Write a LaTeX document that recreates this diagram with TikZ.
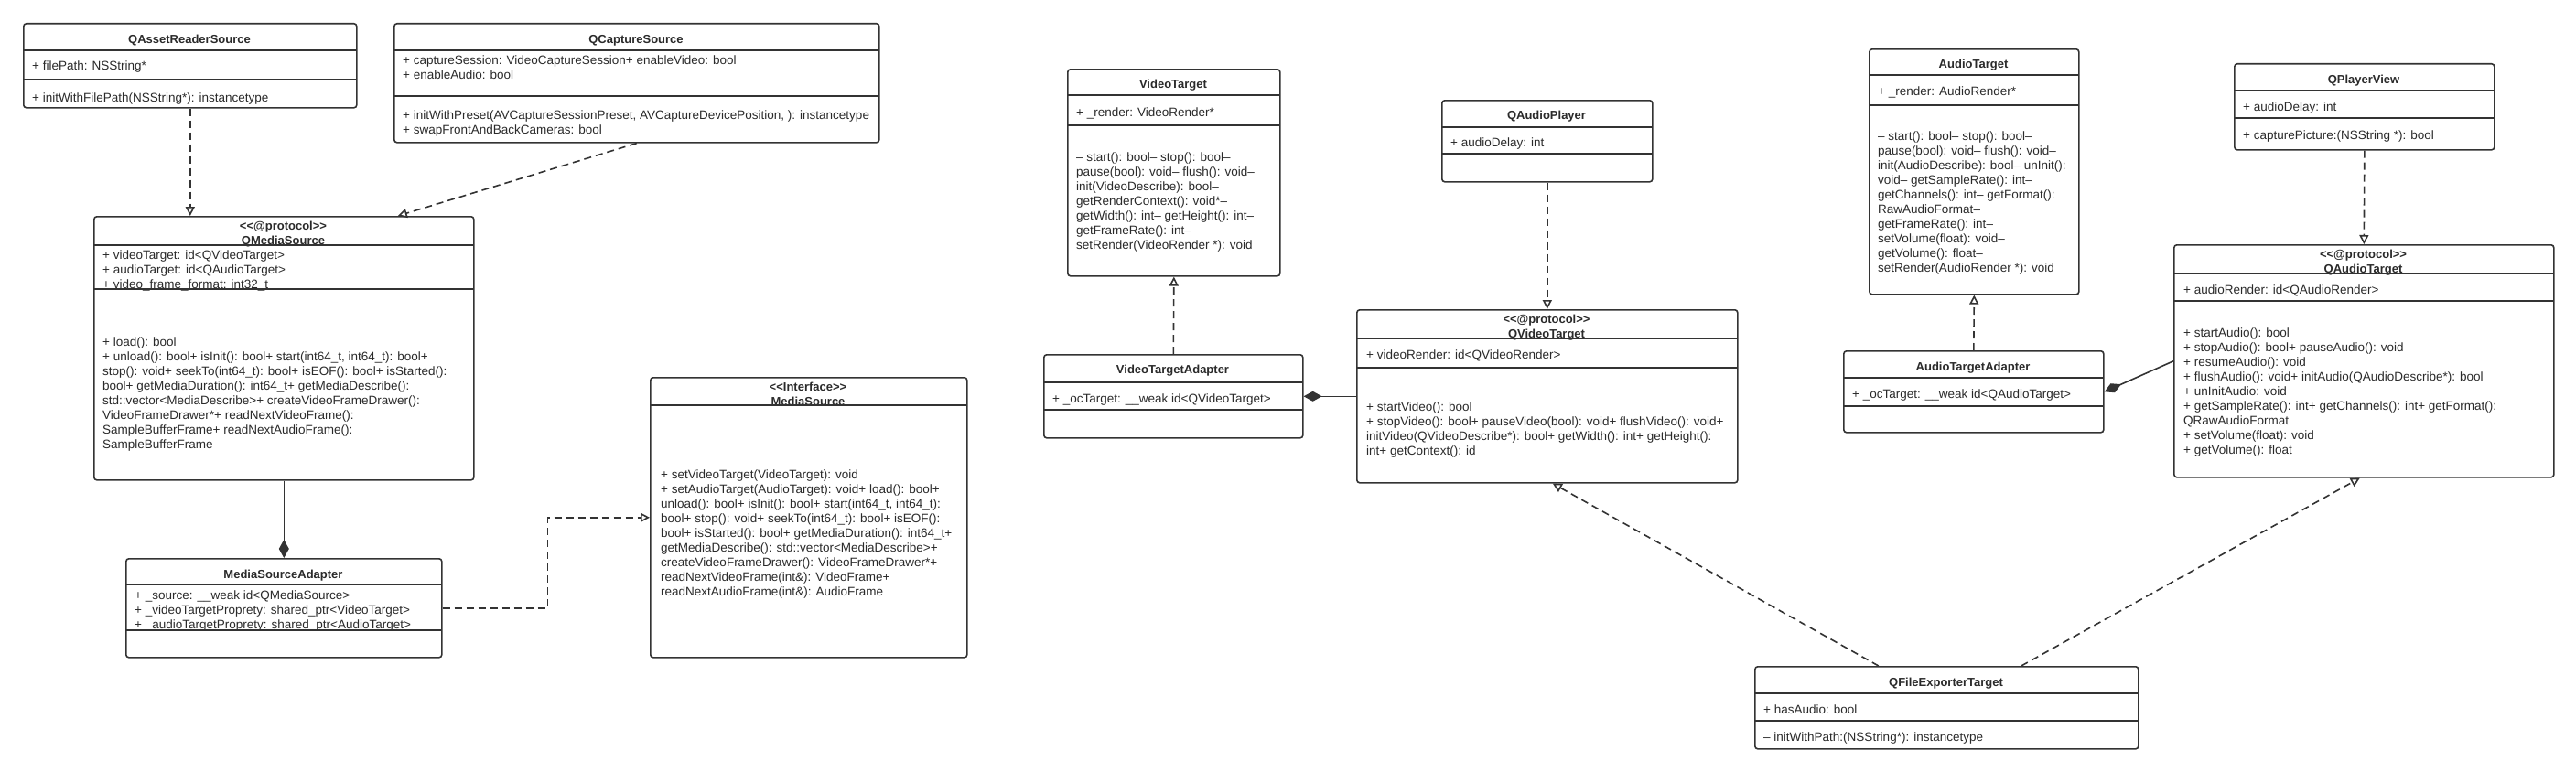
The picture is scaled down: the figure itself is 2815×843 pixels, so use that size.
\documentclass[tikz,border=0pt]{standalone}
\usepackage{fontspec}
\setmainfont{Liberation Sans}
\usetikzlibrary{arrows.meta,calc}
\definecolor{lc}{HTML}{333333}
\definecolor{tc}{HTML}{2A2A2A}
\newcommand{\lgl}{<\kern0pt<}
\newcommand{\rgl}{>\kern0pt>}
\tikzset{
 cls/.style={draw=lc, line width=1.6pt, rounded corners=3pt, anchor=north west, inner sep=0pt, fill=white},
 sepl/.style={draw=lc, line width=1.6pt},
 txt/.style={font=\fontsize{13.5}{16}\selectfont, align=left, inner sep=0pt, anchor=north west, text=tc},
 ttl/.style={font=\bfseries\fontsize{13}{16}\selectfont, align=center, inner sep=0pt, anchor=north, text=tc},
 real/.style={draw=lc, line width=1.6pt, dash pattern=on 8pt off 5pt, -{Triangle[open,length=10pt,width=10pt]}},
 comp/.style={draw=lc, line width=1.6pt, -{Diamond[length=20pt,width=11pt]}}
}
\begin{document}
\begin{tikzpicture}[x=1pt,y=-1pt]
\useasboundingbox[fill=white] (0,0) rectangle (2815,843);

% QAssetReaderSource
\node[cls, minimum width=364pt, minimum height=92pt] (qar) at (25,25) {};
\draw[sepl] (25,55) -- (389,55); \draw[sepl] (25,87) -- (389,87);
\node[ttl] (qar-t) at (207,36) {\strut QAssetReaderSource};
\node[txt] (qar-a) at (35,65) {\strut + filePath: NSString*};
\node[txt] (qar-m) at (35,100) {\strut + initWithFilePath(NSString*): instancetype};

% QCaptureSource
\node[cls, minimum width=530pt, minimum height=130pt] (qcs) at (430,25) {};
\draw[sepl] (430,55) -- (960,55); \draw[sepl] (430,105) -- (960,105);
\node[ttl] (qcs-t) at (695,36) {\strut QCaptureSource};
\node[txt] (qcs-a) at (440,59) {\strut + captureSession: VideoCaptureSession+ enableVideo: bool\\+ enableAudio: bool};
\node[txt] (qcs-m) at (440,119) {\strut + initWithPreset(AVCaptureSessionPreset, AVCaptureDevicePosition, ): instancetype\\+ swapFrontAndBackCameras: bool};

% QMediaSource
\node[cls, minimum width=415pt, minimum height=288pt] (qms) at (102,236) {};
\node[ttl] (qms-t) at (309.5,240) {\strut \lgl@protocol\rgl\\QMediaSource};
\node[txt] (qms-a) at (112,272) {\strut + videoTarget: id<QVideoTarget>\\+ audioTarget: id<QAudioTarget>\\+ video\_frame\_format: int32\_t};
\draw[sepl] (102,268) -- (517,268); \draw[sepl] (102,316) -- (517,316);
\node[txt] (qms-m) at (112,367) {\strut + load(): bool\\
+ unload(): bool+ isInit(): bool+ start(int64\_t, int64\_t): bool+\\
stop(): void+ seekTo(int64\_t): bool+ isEOF(): bool+ isStarted():\\
bool+ getMediaDuration(): int64\_t+ getMediaDescribe():\\
std::vector<MediaDescribe>+ createVideoFrameDrawer():\\
VideoFrameDrawer*+ readNextVideoFrame():\\
SampleBufferFrame+ readNextAudioFrame():\\
SampleBufferFrame};

% MediaSourceAdapter
\node[cls, minimum width=345pt, minimum height=108pt] (msa) at (137,610) {};
\node[ttl] (msa-t) at (309.5,621) {\strut MediaSourceAdapter};
\node[txt] (msa-a) at (147,644) {\strut + \_source: \_\_weak id<QMediaSource>\\+ \_videoTargetProprety: shared\_ptr<VideoTarget>\\+ \_audioTargetProprety: shared\_ptr<AudioTarget>};
\draw[sepl] (137,639) -- (482,639); \draw[sepl] (137,689) -- (482,689);

% MediaSource
\node[cls, minimum width=346pt, minimum height=306pt] (ms) at (710,412) {};
\node[ttl] (ms-t) at (883,416) {\strut \lgl Interface\rgl\\MediaSource};
\draw[sepl] (710,443) -- (1056,443);
\node[txt] (ms-m) at (722,512) {\strut + setVideoTarget(VideoTarget): void\\
+ setAudioTarget(AudioTarget): void+ load(): bool+\\
unload(): bool+ isInit(): bool+ start(int64\_t, int64\_t):\\
bool+ stop(): void+ seekTo(int64\_t): bool+ isEOF():\\
bool+ isStarted(): bool+ getMediaDuration(): int64\_t+\\
getMediaDescribe(): std::vector<MediaDescribe>+\\
createVideoFrameDrawer(): VideoFrameDrawer*+\\
readNextVideoFrame(int\&): VideoFrame+\\
readNextAudioFrame(int\&): AudioFrame};

% VideoTarget
\node[cls, minimum width=232pt, minimum height=226pt] (vt) at (1166,75) {};
\draw[sepl] (1166,104) -- (1398,104); \draw[sepl] (1166,137) -- (1398,137);
\node[ttl] (vt-t) at (1282,85) {\strut VideoTarget};
\node[txt] (vt-a) at (1176,116) {\strut + \_render: VideoRender*};
\node[txt] (vt-m) at (1176,165) {\strut – start(): bool– stop(): bool–\\
pause(bool): void– flush(): void–\\
init(VideoDescribe): bool–\\
getRenderContext(): void*–\\
getWidth(): int– getHeight(): int–\\
getFrameRate(): int–\\
setRender(VideoRender *): void};

% QAudioPlayer
\node[cls, minimum width=230pt, minimum height=89pt] (qap) at (1575,109) {};
\draw[sepl] (1575,139) -- (1805,139); \draw[sepl] (1575,168) -- (1805,168);
\node[ttl] (qap-t) at (1690,119) {\strut QAudioPlayer};
\node[txt] (qap-a) at (1585,149) {\strut + audioDelay: int};

% VideoTargetAdapter
\node[cls, minimum width=283pt, minimum height=91pt] (vta) at (1140,387) {};
\draw[sepl] (1140,418) -- (1423,418); \draw[sepl] (1140,448) -- (1423,448);
\node[ttl] (vta-t) at (1281.5,397) {\strut VideoTargetAdapter};
\node[txt] (vta-a) at (1150,429) {\strut + \_ocTarget: \_\_weak id<QVideoTarget>};

% QVideoTarget
\node[cls, minimum width=416pt, minimum height=189pt] (qvt) at (1482,338) {};
\node[ttl] (qvt-t) at (1690,342) {\strut \lgl@protocol\rgl\\QVideoTarget};
\draw[sepl] (1482,370) -- (1898,370); \draw[sepl] (1482,402) -- (1898,402);
\node[txt] (qvt-a) at (1493,381) {\strut + videoRender: id<QVideoRender>};
\node[txt] (qvt-m) at (1493,438) {\strut + startVideo(): bool\\
+ stopVideo(): bool+ pauseVideo(bool): void+ flushVideo(): void+\\
initVideo(QVideoDescribe*): bool+ getWidth(): int+ getHeight():\\
int+ getContext(): id};

% AudioTarget
\node[cls, minimum width=229pt, minimum height=268pt] (at) at (2042,53) {};
\draw[sepl] (2042,82) -- (2271,82); \draw[sepl] (2042,115) -- (2271,115);
\node[ttl] (at-t) at (2156.5,63) {\strut AudioTarget};
\node[txt] (at-a) at (2052,93) {\strut + \_render: AudioRender*};
\node[txt] (at-m) at (2052,142) {\strut – start(): bool– stop(): bool–\\
pause(bool): void– flush(): void–\\
init(AudioDescribe): bool– unInit():\\
void– getSampleRate(): int–\\
getChannels(): int– getFormat():\\
RawAudioFormat–\\
getFrameRate(): int–\\
setVolume(float): void–\\
getVolume(): float–\\
setRender(AudioRender *): void};

% QPlayerView
\node[cls, minimum width=284pt, minimum height=94pt] (qpv) at (2441,69) {};
\draw[sepl] (2441,99) -- (2725,99); \draw[sepl] (2441,129) -- (2725,129);
\node[ttl] (qpv-t) at (2583,80) {\strut QPlayerView};
\node[txt] (qpv-a) at (2451,110) {\strut + audioDelay: int};
\node[txt] (qpv-m) at (2451,141) {\strut + capturePicture:(NSString *): bool};

% QAudioTarget
\node[cls, minimum width=415pt, minimum height=254pt] (qat) at (2375,267) {};
\node[ttl] (qat-t) at (2582.5,271) {\strut \lgl@protocol\rgl\\QAudioTarget};
\draw[sepl] (2375,299) -- (2790,299); \draw[sepl] (2375,329) -- (2790,329);
\node[txt] (qat-a) at (2386,310) {\strut + audioRender: id<QAudioRender>};
\node[txt] (qat-m) at (2386,357) {\strut + startAudio(): bool\\
+ stopAudio(): bool+ pauseAudio(): void\\
+ resumeAudio(): void\\
+ flushAudio(): void+ initAudio(QAudioDescribe*): bool\\
+ unInitAudio: void\\
+ getSampleRate(): int+ getChannels(): int+ getFormat():\\
QRawAudioFormat\\
+ setVolume(float): void\\
+ getVolume(): float};

% AudioTargetAdapter
\node[cls, minimum width=284pt, minimum height=89pt] (ata) at (2014,383) {};
\draw[sepl] (2014,413) -- (2298,413); \draw[sepl] (2014,444) -- (2298,444);
\node[ttl] (ata-t) at (2156,394) {\strut AudioTargetAdapter};
\node[txt] (ata-a) at (2024,424) {\strut + \_ocTarget: \_\_weak id<QAudioTarget>};

% QFileExporterTarget
\node[cls, minimum width=419pt, minimum height=90pt] (qfe) at (1917,728) {};
\draw[sepl] (1917,758) -- (2336,758); \draw[sepl] (1917,788) -- (2336,788);
\node[ttl] (qfe-t) at (2126.5,739) {\strut QFileExporterTarget};
\node[txt] (qfe-a) at (1927,769) {\strut + hasAudio: bool};
\node[txt] (qfe-m) at (1927,799) {\strut – initWithPath:(NSString*): instancetype};

% connectors
\draw[real] (qar.south) -- (qar.south |- qms.north);
\draw[real] (qcs.south) -- ([xshift=124.5pt]qms.north);
\draw[comp] (qms.south) -- (msa.north);
\draw[real] (msa.east) -- ++(115pt,0) |- (ms.west);
\draw[real] (vta.north) -- (vt.south);
\draw[real] (qap.south) -- (qvt.north);
\draw[comp] (qvt.west) -- (vta.east);
\draw[real] (ata.north) -- (at.south);
\draw[real] (qpv.south) -- (qat.north);
\draw[comp] (qat.west) -- (ata.east);
\draw[real] ([xshift=-74.5pt]qfe.north) -- ([xshift=6pt]qvt.south);
\draw[real] ([xshift=81.5pt]qfe.north) -- ([xshift=-4.5pt]qat.south);
\end{tikzpicture}
\end{document}
